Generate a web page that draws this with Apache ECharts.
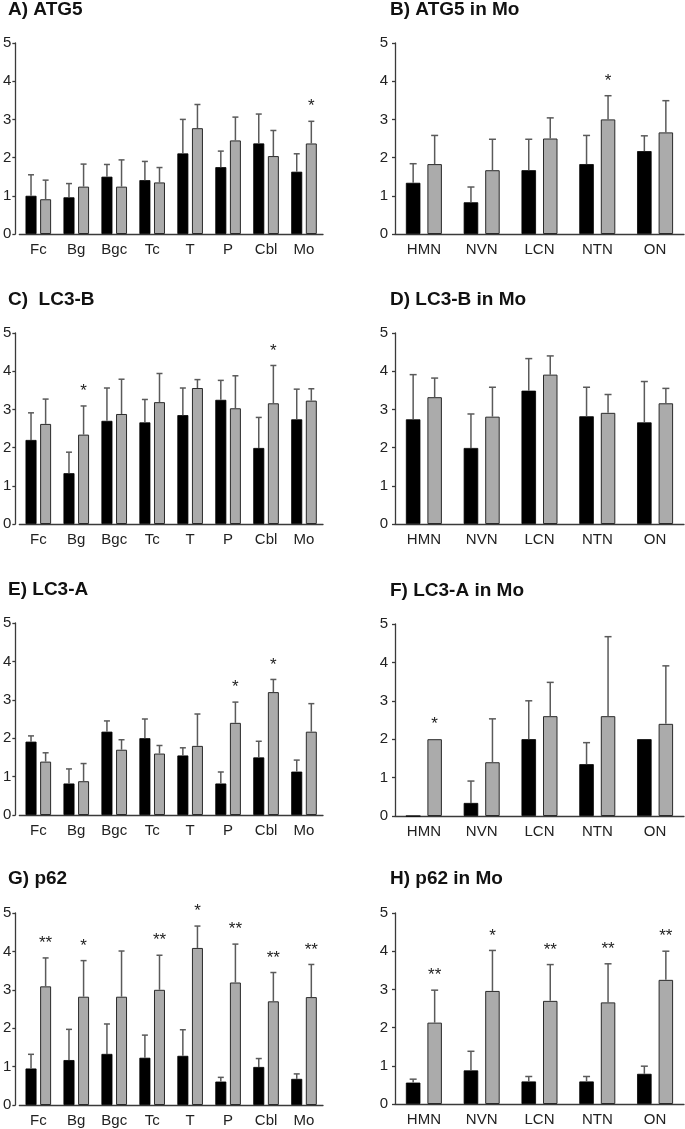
<!DOCTYPE html>
<html>
<head>
<meta charset="utf-8">
<script src="https://cdn.jsdelivr.net/npm/echarts@6/dist/echarts.min.js"></script>
<style>
html,body{margin:0;padding:0;background:#fff;}
#chart{width:685px;height:1129px;}
</style>
</head>
<body>
<div id="chart"></div>
<script>
// ---------- Data ----------
const regionCats = ['Fc', 'Bg', 'Bgc', 'Tc', 'T', 'P', 'Cbl', 'Mo'];
const moCats = ['HMN', 'NVN', 'LCN', 'NTN', 'ON'];
const yTicks = [0, 1, 2, 3, 4, 5];

// A) ATG5
const atg5Ctrl    = [1.00, 0.96, 1.50, 1.41, 2.11, 1.75, 2.37, 1.63];
const atg5CtrlErr = [1.55, 1.32, 1.82, 1.90, 3.00, 2.17, 3.14, 2.10];
const atg5Case    = [0.91, 1.24, 1.24, 1.35, 2.77, 2.45, 2.04, 2.37];
const atg5CaseErr = [1.41, 1.83, 1.94, 1.74, 3.39, 3.06, 2.71, 2.95];
const atg5Sig     = ['', '', '', '', '', '', '', '*'];

// B) ATG5 in Mo
const atg5MoCtrl    = [1.34, 0.83, 1.67, 1.83, 2.17];
const atg5MoCtrlErr = [1.84, 1.23, 2.48, 2.58, 2.57];
const atg5MoCase    = [1.83, 1.67, 2.50, 3.00, 2.66];
const atg5MoCaseErr = [2.58, 2.48, 3.04, 3.62, 3.49];
const atg5MoSig     = ['', '', '', '*', ''];

// C) LC3-B
const lc3bCtrl    = [2.20, 1.33, 2.70, 2.66, 2.85, 3.25, 1.99, 2.74];
const lc3bCtrlErr = [2.91, 1.88, 3.56, 3.26, 3.56, 3.76, 2.79, 3.53];
const lc3bCase    = [2.62, 2.34, 2.88, 3.19, 3.56, 3.03, 3.16, 3.23];
const lc3bCaseErr = [3.27, 3.09, 3.79, 3.94, 3.78, 3.88, 4.15, 3.54];
const lc3bSig     = ['', '*', '', '', '', '', '*', ''];

// D) LC3-B in Mo
const lc3bMoCtrl    = [2.74, 1.99, 3.49, 2.82, 2.66];
const lc3bMoCtrlErr = [3.91, 2.88, 4.33, 3.58, 3.73];
const lc3bMoCase    = [3.32, 2.81, 3.91, 2.91, 3.16];
const lc3bMoCaseErr = [3.82, 3.58, 4.40, 3.39, 3.55];
const lc3bMoSig     = ['', '', '', '', ''];

// E) LC3-A
const lc3aCtrl    = [1.91, 0.82, 2.17, 2.00, 1.55, 0.82, 1.50, 1.13];
const lc3aCtrlErr = [2.06, 1.20, 2.45, 2.50, 1.75, 1.12, 1.92, 1.43];
const lc3aCase    = [1.39, 0.88, 1.70, 1.60, 1.80, 2.40, 3.20, 2.17];
const lc3aCaseErr = [1.62, 1.34, 1.96, 1.81, 2.63, 2.94, 3.53, 2.90];
const lc3aSig     = ['', '', '', '', '', '*', '*', ''];

// F) LC3-A in Mo
const lc3aMoCtrl    = [0.00, 0.34, 2.00, 1.35, 2.00];
const lc3aMoCtrlErr = [0.00, 0.91, 3.00, 1.91, 2.00];
const lc3aMoCase    = [2.00, 1.40, 2.60, 2.60, 2.40];
const lc3aMoCaseErr = [2.00, 2.53, 3.48, 4.67, 3.91];
const lc3aMoSig     = ['*', '', '', '', ''];

// G) p62
const p62Ctrl    = [0.95, 1.17, 1.33, 1.23, 1.28, 0.61, 0.99, 0.68];
const p62CtrlErr = [1.32, 1.97, 2.11, 1.82, 1.96, 0.72, 1.21, 0.81];
const p62Case    = [3.09, 2.82, 2.82, 3.00, 4.09, 3.19, 2.70, 2.81];
const p62CaseErr = [3.83, 3.76, 4.01, 3.90, 4.66, 4.19, 3.45, 3.66];
const p62Sig     = ['**', '*', '', '**', '*', '**', '**', '**'];

// H) p62 in Mo
const p62MoCtrl    = [0.56, 0.88, 0.59, 0.59, 0.79];
const p62MoCtrlErr = [0.65, 1.38, 0.72, 0.72, 0.99];
const p62MoCase    = [2.13, 2.96, 2.70, 2.66, 3.25];
const p62MoCaseErr = [2.98, 4.02, 3.65, 3.67, 4.00];
const p62MoSig     = ['**', '*', '**', '**', '**'];

const panelTitles = ['A) ATG5', 'B) ATG5 in Mo', 'C)  LC3-B', 'D) LC3-B in Mo',
                     'E) LC3-A', 'F) LC3-A in Mo', 'G) p62', 'H) p62 in Mo'];

// ---------- Layout ----------
const FONT = "'Liberation Sans', Arial, Helvetica, sans-serif";
const panels = [
  {title: panelTitles[0], cats: regionCats, side: 'L', top: 43,  height: 191, tTop: 0,   c: atg5Ctrl, ce: atg5CtrlErr, g: atg5Case, ge: atg5CaseErr, sig: atg5Sig},
  {title: panelTitles[1], cats: moCats,     side: 'R', top: 43,  height: 191, tTop: 0,   c: atg5MoCtrl, ce: atg5MoCtrlErr, g: atg5MoCase, ge: atg5MoCaseErr, sig: atg5MoSig},
  {title: panelTitles[2], cats: regionCats, side: 'L', top: 333, height: 191, tTop: 290, c: lc3bCtrl, ce: lc3bCtrlErr, g: lc3bCase, ge: lc3bCaseErr, sig: lc3bSig},
  {title: panelTitles[3], cats: moCats,     side: 'R', top: 333, height: 191, tTop: 290, c: lc3bMoCtrl, ce: lc3bMoCtrlErr, g: lc3bMoCase, ge: lc3bMoCaseErr, sig: lc3bMoSig},
  {title: panelTitles[4], cats: regionCats, side: 'L', top: 623, height: 192, tTop: 580, c: lc3aCtrl, ce: lc3aCtrlErr, g: lc3aCase, ge: lc3aCaseErr, sig: lc3aSig},
  {title: panelTitles[5], cats: moCats,     side: 'R', top: 624, height: 192, tTop: 581, c: lc3aMoCtrl, ce: lc3aMoCtrlErr, g: lc3aMoCase, ge: lc3aMoCaseErr, sig: lc3aMoSig},
  {title: panelTitles[6], cats: regionCats, side: 'L', top: 913, height: 192, tTop: 869, c: p62Ctrl, ce: p62CtrlErr, g: p62Case, ge: p62CaseErr, sig: p62Sig},
  {title: panelTitles[7], cats: moCats,     side: 'R', top: 913, height: 191, tTop: 869, c: p62MoCtrl, ce: p62MoCtrlErr, g: p62MoCase, ge: p62MoCaseErr, sig: p62MoSig}
];
const SIDE = {
  L: {left: 17, width: 306, barW: 11, gap: 3.6, cap: 6, offset: 4, labelMargin: 4, titleLeft: 8},
  R: {left: 395, width: 289, barW: 14.5, gap: 7, cap: 7, offset: 0, labelMargin: 7, titleLeft: 390}
};
const AXIS_COLOR = '#3a3a3a';
const ERR_COLOR = '#5a5a5a';

const titles = [], grids = [], xAxes = [], yAxes = [], series = [];

panels.forEach((p, i) => {
  const s = SIDE[p.side];
  titles.push({
    text: p.title, left: s.titleLeft, top: p.tTop, padding: 0,
    textStyle: {fontFamily: FONT, fontSize: 19, fontWeight: 'bold', color: '#111'}
  });
  grids.push({left: s.left, width: s.width, top: p.top, height: p.height, containLabel: false});
  xAxes.push({
    type: 'category', gridIndex: i, data: p.cats,
    axisLine: {lineStyle: {color: AXIS_COLOR, width: 1.3}},
    axisTick: {alignWithLabel: true, length: 4, lineStyle: {color: AXIS_COLOR, width: 1.3}},
    axisLabel: {fontFamily: FONT, fontSize: 15, color: '#222', margin: 8}
  });
  yAxes.push({
    type: 'value', gridIndex: i, min: 0, max: 5, interval: 1, offset: s.offset,
    axisLine: {show: true, lineStyle: {color: AXIS_COLOR, width: 1.3}},
    axisTick: {show: true, length: 3, lineStyle: {color: AXIS_COLOR, width: 1.3}},
    axisLabel: {fontFamily: FONT, fontSize: 15, color: '#222', margin: s.labelMargin,
                formatter: v => (yTicks.indexOf(v) >= 0 ? String(v) : '')},
    splitLine: {show: false}
  });
  const barGap = (s.gap / s.barW * 100).toFixed(1) + '%';
  series.push({
    type: 'bar', xAxisIndex: i, yAxisIndex: i, data: p.c, barWidth: s.barW, barGap: barGap,
    itemStyle: {color: '#000', borderColor: '#000', borderWidth: 0.8}, silent: true
  });
  series.push({
    type: 'bar', xAxisIndex: i, yAxisIndex: i, data: p.g, barWidth: s.barW, barGap: barGap,
    itemStyle: {color: '#ababab', borderColor: '#2a2a2a', borderWidth: 1}, silent: true
  });
  const off = (s.barW + s.gap) / 2;
  [[p.c, p.ce, -1, null], [p.g, p.ge, 1, p.sig]].forEach(([vals, errs, sign, sig]) => {
    series.push({
      type: 'custom', xAxisIndex: i, yAxisIndex: i, silent: true, clip: false, z: 5,
      data: vals.map((v, k) => [k, v, errs[k]]),
      renderItem: (params, api) => {
        const k = api.value(0), v = api.value(1), e = api.value(2);
        const p0 = api.coord([k, v]);
        const p1 = api.coord([k, e]);
        const cx = p0[0] + sign * off;
        const children = [];
        if (e > v + 0.001) {
          children.push({type: 'line', shape: {x1: cx, y1: p0[1], x2: cx, y2: p1[1]},
                         style: {stroke: ERR_COLOR, lineWidth: 1.5}});
          children.push({type: 'line', shape: {x1: cx - s.cap / 2, y1: p1[1], x2: cx + s.cap / 2, y2: p1[1]},
                         style: {stroke: ERR_COLOR, lineWidth: 1.5}});
        }
        if (sig && sig[params.dataIndex]) {
          children.push({type: 'text', style: {
            text: sig[params.dataIndex], x: cx, y: p1[1] - 6,
            align: 'center', verticalAlign: 'bottom',
            font: '17px ' + FONT, fill: '#222'
          }});
        }
        return {type: 'group', children: children};
      }
    });
  });
});

const chart = echarts.init(document.getElementById('chart'), null, {renderer: 'canvas'});
chart.setOption({
  animation: false,
  backgroundColor: '#fff',
  title: titles,
  grid: grids,
  xAxis: xAxes,
  yAxis: yAxes,
  series: series
});
</script>
</body>
</html>
